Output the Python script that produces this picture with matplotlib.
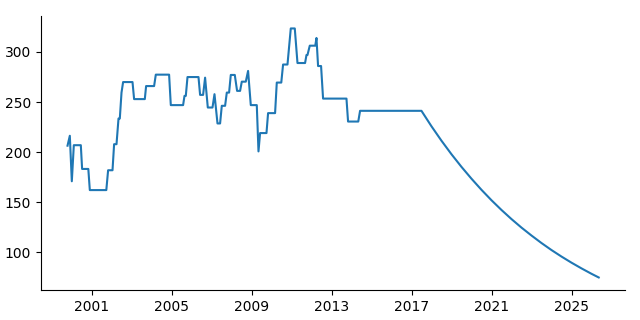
import numpy as np
import matplotlib
matplotlib.use("Agg")
import matplotlib.pyplot as plt

# step history (decimal years)
years = [1999.785, 1999.9, 2000.0, 2000.1, 2000.45, 2000.515, 2000.825, 2000.9,
         2001.725, 2001.815, 2002.035, 2002.115, 2002.235, 2002.335, 2002.4,
         2002.485, 2002.565, 2003.035, 2003.115, 2003.65, 2003.715, 2004.115,
         2004.2, 2004.865, 2004.95, 2005.565, 2005.635, 2005.7, 2005.785,
         2006.335, 2006.415, 2006.565, 2006.665, 2006.8, 2007.035, 2007.135,
         2007.285, 2007.415, 2007.5, 2007.665, 2007.75, 2007.865, 2007.95,
         2008.15, 2008.265, 2008.415, 2008.5, 2008.7, 2008.815, 2008.95,
         2009.25, 2009.335, 2009.415, 2009.735, 2009.815, 2010.165, 2010.25,
         2010.475, 2010.565, 2010.785, 2010.95, 2011.15, 2011.285, 2011.665,
         2011.735, 2011.785, 2011.9, 2012.175, 2012.235, 2012.315, 2012.465,
         2012.565, 2013.735, 2013.815, 2014.325, 2014.415, 2017.485]
values = [206.5, 216.4, 171, 207, 207, 183.3, 183.3, 162.2,
          162.2, 182, 182, 208, 208, 233.6, 233.6,
          259.5, 270, 270, 253, 253, 266, 266,
          277.4, 277.4, 247, 247, 256.2, 256.2, 275,
          275, 257.2, 257.2, 274.4, 244.6, 244.6, 257.9,
          228.7, 228.7, 246.3, 246.3, 259.5, 259.5, 277.1,
          277.1, 261.2, 261.2, 270.4, 270.4, 281.1, 247,
          247, 200.8, 219.1, 219.1, 239, 239, 269.5,
          269.5, 287.5, 287.5, 323.5, 323.5, 289, 289,
          297, 297, 306.3, 306.3, 314, 286, 286,
          253.5, 253.5, 230.6, 230.6, 241.3, 241.3]

# projected decline after mid-2017 (half-year readings)
proj_years = [2017.985, 2018.485, 2018.985, 2019.485, 2019.985, 2020.485,
              2020.985, 2021.485, 2021.985, 2022.485, 2022.985, 2023.485,
              2023.985, 2024.485, 2024.985, 2025.485, 2025.985, 2026.35]
proj_values = [225.9, 211.5, 198.0, 185.4, 173.6, 162.5,
               152.1, 142.4, 133.3, 124.8, 116.9, 109.4,
               102.4, 95.9, 89.8, 84.1, 78.7, 75.0]

x = years + proj_years
y = values + proj_values

fig, ax = plt.subplots(figsize=(6.4, 3.2), dpi=100)
ax.plot(x, y, color="tab:blue", lw=1.5)

tick_years = [2001, 2005, 2009, 2013, 2017, 2021, 2025]
ax.set_xticks(tick_years)
ax.set_xticklabels([str(t) for t in tick_years])
ax.set_yticks([100, 150, 200, 250, 300])

ax.spines["top"].set_visible(False)
ax.spines["right"].set_visible(False)

fig.subplots_adjust(left=0.064, right=0.977, bottom=0.094, top=0.95)
fig.savefig("out.png")
